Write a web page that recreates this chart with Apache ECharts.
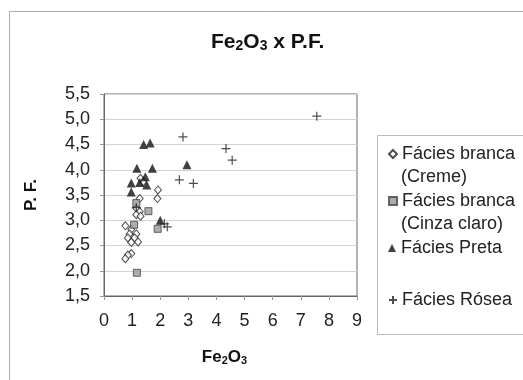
<!DOCTYPE html>
<html><head><meta charset="utf-8">
<script src="https://cdn.jsdelivr.net/npm/echarts@6/dist/echarts.min.js"></script>
<style>html,body{margin:0;padding:0;background:#fff}#c{width:523px;height:380px}</style>
</head><body><div id="c"></div>
<script>
const seriesNames = ['Fácies branca (Creme)', 'Fácies branca (Cinza claro)', 'Fácies Preta', 'Fácies Rósea'];
const legendFirstLines = ['Fácies branca', 'Fácies branca', 'Fácies Preta', 'Fácies Rósea'];
const legendSecondLines = ['(Creme)', '(Cinza claro)', '', ''];
const yTicks = [1.5, 2.0, 2.5, 3.0, 3.5, 4.0, 4.5, 5.0, 5.5];
const xTicks = [0, 1, 2, 3, 4, 5, 6, 7, 8, 9];
const creme = [[1.30,3.83],[1.39,3.76],[1.92,3.60],[1.90,3.43],[1.27,3.43],[1.15,3.24],[1.27,3.17],[1.15,3.11],[1.30,3.08],[0.76,2.89],[0.97,2.82],[0.91,2.73],[1.15,2.73],[0.85,2.65],[1.09,2.65],[0.97,2.56],[1.21,2.57],[0.97,2.34],[0.85,2.31],[0.76,2.24]];
const cinza = [[1.15,3.34],[1.58,3.18],[1.07,2.91],[1.91,2.83],[1.17,1.96]];
const preta = [[1.41,4.50],[1.64,4.53],[1.17,4.03],[1.72,4.03],[0.97,3.74],[1.27,3.75],[1.47,3.86],[1.52,3.70],[0.97,3.56],[2.95,4.10],[2.00,3.00]];
const rosea = [[2.81,4.65],[2.68,3.80],[3.18,3.73],[2.15,2.93],[2.25,2.87],[7.57,5.06],[4.34,4.42],[4.56,4.19],[1.15,3.25]];

const FONT = '"Liberation Sans", Arial, sans-serif';
const PLUS = 'path://M0,5L10,5M5,0L5,10';
const chart = echarts.init(document.getElementById('c'), null, {renderer: 'canvas'});

const symbolDefs = [
  {symbol: 'diamond', size: [7, 8], style: {color: '#fff', borderColor: '#222', borderWidth: 1}},
  {symbol: 'rect', size: 7, style: {color: '#999', borderColor: '#444', borderWidth: 1}},
  {symbol: 'triangle', size: 9, style: {color: '#111', borderColor: '#111', borderWidth: 0}},
  {symbol: PLUS, size: 9, style: {color: '#222', borderColor: '#222', borderWidth: 1.2}}
];
const datasets = [creme, cinza, preta, rosea];
const legendCenters = [154, 201, 248, 300];

const legends = seriesNames.map((n, i) => ({
  data: [n], orient: 'vertical', left: 388, top: legendCenters[i] - 11.5, padding: 0,
  itemWidth: 8, itemHeight: 8, selectedMode: false,
  formatter: () => legendFirstLines[i],
  textStyle: {fontFamily: FONT, fontSize: 18, color: '#222', lineHeight: 23}
}));

const option = {
  animation: false,
  backgroundColor: '#fff',
  title: {
    text: '{a|Fe}{s|2}{a|O}{s|3}{a| x P.F.}',
    left: 206, top: 27,
    textStyle: {rich: {
      a: {fontFamily: FONT, fontSize: 21, fontWeight: 'bold', color: '#111'},
      s: {fontFamily: FONT, fontSize: 14, fontWeight: 'bold', color: '#111', verticalAlign: 'bottom', padding: [7, 0, 0, 0]}
    }}
  },
  legend: legends,
  grid: {left: 104, right: 166, top: 94, bottom: 84, show: true, borderColor: '#666', borderWidth: 1, containLabel: false},
  xAxis: {
    type: 'value', min: xTicks[0], max: xTicks[xTicks.length - 1], interval: 1,
    name: '{a|Fe}{s|2}{a|O}{s|3}', nameLocation: 'middle', nameGap: 53,
    nameTextStyle: {padding: [0, 12, 0, 0], rich: {
      a: {fontFamily: FONT, fontSize: 17, fontWeight: 'bold', color: '#111'},
      s: {fontFamily: FONT, fontSize: 11, fontWeight: 'bold', color: '#111', verticalAlign: 'bottom', padding: [6, 0, 0, 0]}
    }},
    axisLine: {show: true, lineStyle: {color: '#666', width: 1}},
    axisTick: {show: true, inside: false, length: 4, lineStyle: {color: '#999'}},
    axisLabel: {margin: 16, fontFamily: FONT, fontSize: 18, color: '#222'},
    splitLine: {show: false}
  },
  yAxis: {
    type: 'value', min: yTicks[0], max: yTicks[yTicks.length - 1], interval: 0.5,
    name: 'P. F.', nameLocation: 'middle', nameGap: 64, nameRotate: 90,
    nameTextStyle: {fontFamily: FONT, fontSize: 17, fontWeight: 'bold', color: '#111'},
    axisLine: {show: true, lineStyle: {color: '#666', width: 1}},
    axisTick: {show: true, inside: false, length: 4, lineStyle: {color: '#999'}},
    axisLabel: {margin: 14, fontFamily: FONT, fontSize: 18, color: '#222',
      formatter: v => v.toFixed(1).replace('.', ',')},
    splitLine: {show: true, lineStyle: {color: '#d4d4d4', width: 1}}
  },
  graphic: [
    {type: 'rect', silent: true, z: -10, shape: {x: 9.5, y: 11.5, width: 600, height: 500}, style: {fill: 'none', stroke: '#aaa', lineWidth: 1}},
    {type: 'rect', silent: true, z: -10, shape: {x: 377.5, y: 135.5, width: 300, height: 199}, style: {fill: 'none', stroke: '#bbb', lineWidth: 1}},
    {type: 'text', silent: true, left: 401, top: 177 - 11.5, style: {text: legendSecondLines[0], font: '18px ' + FONT, fill: '#222', lineHeight: 23}},
    {type: 'text', silent: true, left: 401, top: 224 - 11.5, style: {text: legendSecondLines[1], font: '18px ' + FONT, fill: '#222', lineHeight: 23}}
  ],
  series: seriesNames.map((n, i) => ({
    name: n, type: 'scatter', data: datasets[i],
    symbol: symbolDefs[i].symbol, symbolSize: symbolDefs[i].size,
    itemStyle: symbolDefs[i].style, z: 2 + i
  }))
};
chart.setOption(option);
</script></body></html>
